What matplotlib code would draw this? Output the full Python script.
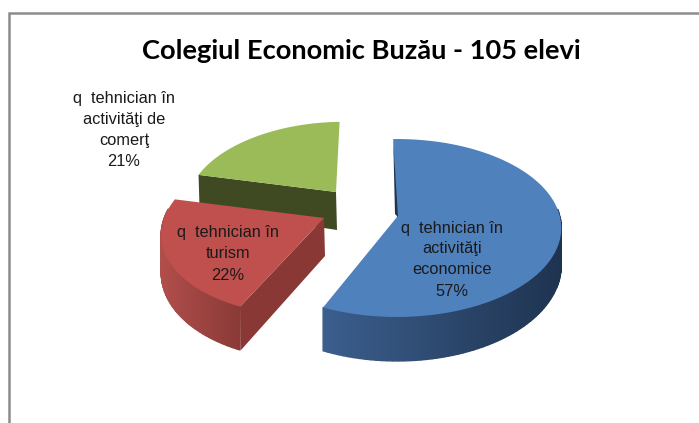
import numpy as np
import matplotlib
matplotlib.use('Agg')
import matplotlib.pyplot as plt
from matplotlib.patches import Polygon

TITLE = 'Colegiul Economic Buzău - 105 elevi'
names = ['tehnician în\nactivităţi\neconomice', 'tehnician în\nturism', 'tehnician în\nactivităţi de\ncomerţ']
percent = [57, 22, 21]

top_colors = ['#4f81bd', '#c0504d', '#9bbb59']
rim_light = ['#3c5f8e', '#b04e4b', '#76903f']
rim_dark = ['#1e3350', '#8a3a37', '#404a22']
face_colors = ['#1e3350', '#8a3835', '#404a22']
apex = [(397, 217), (324, 218), (336, 192)]
scale = [1.0, 0.98, 0.9]
skew = [0.0, -0.13, -0.1]
label_xy = [(452, 259.5), (228, 254), (124, 130)]

START = 91.5
RX, RY, K = 163, 87.6, 0.1236


def project(i, theta):
    u, v = np.cos(theta), np.sin(theta)
    w = 1 + K * v
    dy = -scale[i] * RY * v / w
    x = apex[i][0] + scale[i] * RX * u / w + skew[i] * dy
    return x, apex[i][1] + dy


def depth(theta):
    return 36 - 8 * np.sin(theta)


fig = plt.figure(figsize=(6.99, 4.23), dpi=100)
ax = fig.add_axes([0, 0, 1, 1])
ax.set_xlim(0, 699)
ax.set_ylim(423, 0)
ax.axis('off')

# frame only on top and left, the picture is cut off
ax.plot([8.5, 8.5, 699], [423, 13.5, 13.5], color='#8c8c8c', lw=1.8, solid_joinstyle='miter')

fractions = np.array(percent) / sum(percent)
ends = START - 360 * np.cumsum(fractions)
starts = np.concatenate([[START], ends[:-1]])

# back to front
for i in [2, 1, 0]:
    a0, a1 = np.radians(starts[i]), np.radians(ends[i])
    th = np.linspace(a0, a1, 120)
    xs, ys = project(i, th)
    cx, cy = apex[i]
    d_apex = 38
    x0, y0 = xs[0], ys[0]

    # cut face towards the viewer
    if i != 0:
        ax.add_patch(Polygon([(x0, y0), (cx, cy), (cx + 1, cy + d_apex), (x0 + 1, y0 + depth(a0))],
                             fc=face_colors[i], ec='none'))

    # outer rim, only the part that faces front, shaded in steps
    if i != 2:
        idx = np.where(np.sin(th) < 0.12)[0]
        xr, yr, thr = xs[idx], ys[idx], th[idx]
        lo, hi = xr.min(), xr.max()
        c_l = np.array(matplotlib.colors.to_rgb(rim_light[i]))
        c_d = np.array(matplotlib.colors.to_rgb(rim_dark[i]))
        for j in range(len(idx) - 1):
            t = (xr[j] - lo) / (hi - lo)
            c = c_l * (1 - t) + c_d * t
            ax.add_patch(Polygon([(xr[j], yr[j]), (xr[j + 1], yr[j + 1]),
                                  (xr[j + 1], yr[j + 1] + depth(thr[j + 1])),
                                  (xr[j], yr[j] + depth(thr[j]))],
                                 fc=c, ec=c, lw=1))

    pts = [(cx, cy)] + list(zip(xs, ys))
    ax.add_patch(Polygon(pts, fc=top_colors[i], ec='none'))

    # thin dark sliver on the start edge of the big slice
    if i == 0:
        ax.add_patch(Polygon([(x0, y0), (cx + 1, cy), (cx - 2, cy - 3)], fc=face_colors[i], ec='none'))

ax.text(361, 51, TITLE, ha='center', va='center', fontsize=19.6, fontweight='bold',
        family='Lato', color='black')

for i in range(3):
    ax.text(label_xy[i][0], label_xy[i][1], 'q  ' + names[i] + '\n%d%%' % percent[i],
            ha='center', va='center', fontsize=11.8, linespacing=1.5,
            family='Liberation Sans', color='#1a1a1a')

fig.savefig('out.png', dpi=100)
